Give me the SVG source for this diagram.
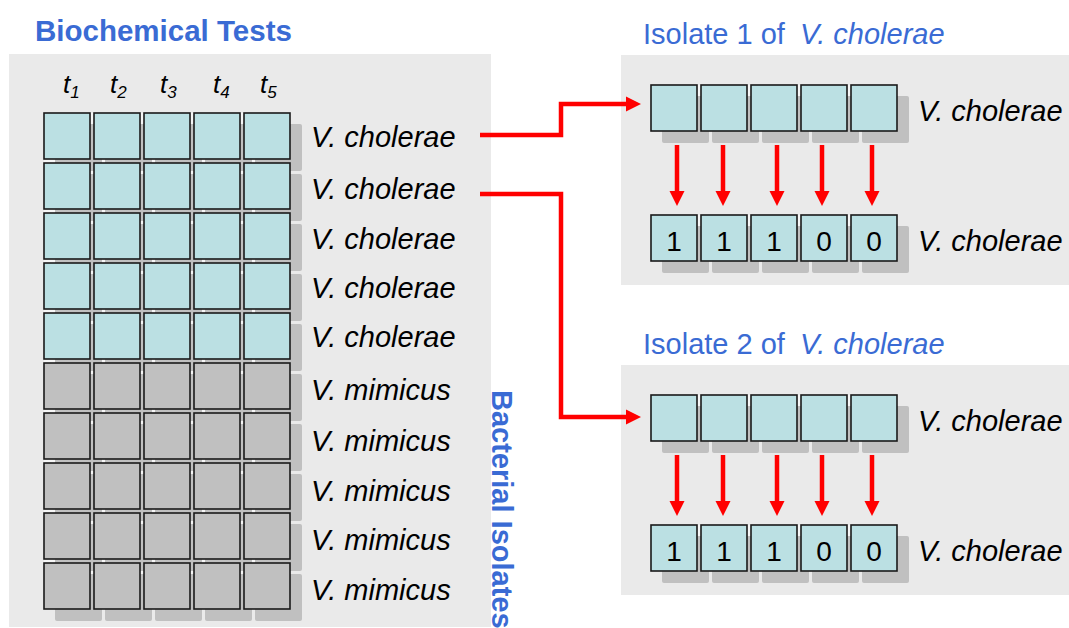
<svg xmlns="http://www.w3.org/2000/svg" width="1069" height="628" viewBox="0 0 1069 628">
<defs>
<style>
.panel{fill:#eaeaea}
.gapbg{fill:#f6f6f6}
.sh{fill:#c0c0c0}
.cy{fill:#bbe0e3;stroke:#1a1a1a;stroke-width:1.6}
.gr{fill:#c0c0c0;stroke:#1a1a1a;stroke-width:1.6}
.lab{font-family:"Liberation Sans",Arial,sans-serif;font-style:italic;font-size:29px;fill:#000}
.hdr{font-family:"Liberation Sans",Arial,sans-serif;font-style:italic;font-size:26px;fill:#000}
.sub{font-size:17px}
.dig{font-family:"Liberation Sans",Arial,sans-serif;font-size:28px;fill:#000;text-anchor:middle}
.ttl{font-family:"Liberation Sans",Arial,sans-serif;font-size:29px;fill:#3a6bd4}
.bold{font-weight:bold}
.it{font-style:italic}
.con{fill:none;stroke:#ff0000;stroke-width:4.5;marker-end:url(#ah)}
</style>
<marker id="ah" markerUnits="userSpaceOnUse" markerWidth="16" markerHeight="16" refX="0" refY="7.5" orient="auto" viewBox="0 0 16 15">
<path d="M0,0 L15,7.5 L0,15 z" fill="#ff0000"/>
</marker>
<g id="cellS">
<rect class="sh" x="11" y="11" width="47" height="47" rx="2"/>
</g>
</defs>

<!-- Left panel -->
<g id="left-panel">
<rect class="panel" x="9" y="54" width="482" height="573"/>
<text class="ttl bold" x="35" y="41" style="font-size:29.5px">Biochemical Tests</text>
<text class="ttl bold" transform="translate(492,390) rotate(90)">Bacterial Isolates</text>
<text class="hdr" x="63" y="93">t<tspan class="sub" dy="5">1</tspan></text>
<text class="hdr" x="110" y="93">t<tspan class="sub" dy="5">2</tspan></text>
<text class="hdr" x="160" y="93">t<tspan class="sub" dy="5">3</tspan></text>
<text class="hdr" x="213" y="93">t<tspan class="sub" dy="5">4</tspan></text>
<text class="hdr" x="260" y="93">t<tspan class="sub" dy="5">5</tspan></text>
</g>

<g id="grid">
<rect class="gapbg" x="44" y="113" width="247" height="497"/>
<g id="grid-shadows">
<use href="#cellS" x="44" y="113"/><use href="#cellS" x="94" y="113"/><use href="#cellS" x="144" y="113"/><use href="#cellS" x="194" y="113"/><use href="#cellS" x="244" y="113"/>
<use href="#cellS" x="44" y="163"/><use href="#cellS" x="94" y="163"/><use href="#cellS" x="144" y="163"/><use href="#cellS" x="194" y="163"/><use href="#cellS" x="244" y="163"/>
<use href="#cellS" x="44" y="213"/><use href="#cellS" x="94" y="213"/><use href="#cellS" x="144" y="213"/><use href="#cellS" x="194" y="213"/><use href="#cellS" x="244" y="213"/>
<use href="#cellS" x="44" y="263"/><use href="#cellS" x="94" y="263"/><use href="#cellS" x="144" y="263"/><use href="#cellS" x="194" y="263"/><use href="#cellS" x="244" y="263"/>
<use href="#cellS" x="44" y="313"/><use href="#cellS" x="94" y="313"/><use href="#cellS" x="144" y="313"/><use href="#cellS" x="194" y="313"/><use href="#cellS" x="244" y="313"/>
<use href="#cellS" x="44" y="363"/><use href="#cellS" x="94" y="363"/><use href="#cellS" x="144" y="363"/><use href="#cellS" x="194" y="363"/><use href="#cellS" x="244" y="363"/>
<use href="#cellS" x="44" y="413"/><use href="#cellS" x="94" y="413"/><use href="#cellS" x="144" y="413"/><use href="#cellS" x="194" y="413"/><use href="#cellS" x="244" y="413"/>
<use href="#cellS" x="44" y="463"/><use href="#cellS" x="94" y="463"/><use href="#cellS" x="144" y="463"/><use href="#cellS" x="194" y="463"/><use href="#cellS" x="244" y="463"/>
<use href="#cellS" x="44" y="513"/><use href="#cellS" x="94" y="513"/><use href="#cellS" x="144" y="513"/><use href="#cellS" x="194" y="513"/><use href="#cellS" x="244" y="513"/>
<use href="#cellS" x="44" y="563"/><use href="#cellS" x="94" y="563"/><use href="#cellS" x="144" y="563"/><use href="#cellS" x="194" y="563"/><use href="#cellS" x="244" y="563"/>
</g>
<g id="row1"><rect class="cy" x="44" y="113" width="46" height="46"/><rect class="cy" x="94" y="113" width="46" height="46"/><rect class="cy" x="144" y="113" width="46" height="46"/><rect class="cy" x="194" y="113" width="46" height="46"/><rect class="cy" x="244" y="113" width="46" height="46"/><text class="lab" x="311" y="147">V. cholerae</text></g>
<g id="row2"><rect class="cy" x="44" y="163" width="46" height="46"/><rect class="cy" x="94" y="163" width="46" height="46"/><rect class="cy" x="144" y="163" width="46" height="46"/><rect class="cy" x="194" y="163" width="46" height="46"/><rect class="cy" x="244" y="163" width="46" height="46"/><text class="lab" x="311" y="199">V. cholerae</text></g>
<g id="row3"><rect class="cy" x="44" y="213" width="46" height="46"/><rect class="cy" x="94" y="213" width="46" height="46"/><rect class="cy" x="144" y="213" width="46" height="46"/><rect class="cy" x="194" y="213" width="46" height="46"/><rect class="cy" x="244" y="213" width="46" height="46"/><text class="lab" x="311" y="249">V. cholerae</text></g>
<g id="row4"><rect class="cy" x="44" y="263" width="46" height="46"/><rect class="cy" x="94" y="263" width="46" height="46"/><rect class="cy" x="144" y="263" width="46" height="46"/><rect class="cy" x="194" y="263" width="46" height="46"/><rect class="cy" x="244" y="263" width="46" height="46"/><text class="lab" x="311" y="298">V. cholerae</text></g>
<g id="row5"><rect class="cy" x="44" y="313" width="46" height="46"/><rect class="cy" x="94" y="313" width="46" height="46"/><rect class="cy" x="144" y="313" width="46" height="46"/><rect class="cy" x="194" y="313" width="46" height="46"/><rect class="cy" x="244" y="313" width="46" height="46"/><text class="lab" x="311" y="347">V. cholerae</text></g>
<g id="row6"><rect class="gr" x="44" y="363" width="46" height="46"/><rect class="gr" x="94" y="363" width="46" height="46"/><rect class="gr" x="144" y="363" width="46" height="46"/><rect class="gr" x="194" y="363" width="46" height="46"/><rect class="gr" x="244" y="363" width="46" height="46"/><text class="lab" x="311" y="400">V. mimicus</text></g>
<g id="row7"><rect class="gr" x="44" y="413" width="46" height="46"/><rect class="gr" x="94" y="413" width="46" height="46"/><rect class="gr" x="144" y="413" width="46" height="46"/><rect class="gr" x="194" y="413" width="46" height="46"/><rect class="gr" x="244" y="413" width="46" height="46"/><text class="lab" x="311" y="451">V. mimicus</text></g>
<g id="row8"><rect class="gr" x="44" y="463" width="46" height="46"/><rect class="gr" x="94" y="463" width="46" height="46"/><rect class="gr" x="144" y="463" width="46" height="46"/><rect class="gr" x="194" y="463" width="46" height="46"/><rect class="gr" x="244" y="463" width="46" height="46"/><text class="lab" x="311" y="501">V. mimicus</text></g>
<g id="row9"><rect class="gr" x="44" y="513" width="46" height="46"/><rect class="gr" x="94" y="513" width="46" height="46"/><rect class="gr" x="144" y="513" width="46" height="46"/><rect class="gr" x="194" y="513" width="46" height="46"/><rect class="gr" x="244" y="513" width="46" height="46"/><text class="lab" x="311" y="550">V. mimicus</text></g>
<g id="row10"><rect class="gr" x="44" y="563" width="46" height="46"/><rect class="gr" x="94" y="563" width="46" height="46"/><rect class="gr" x="144" y="563" width="46" height="46"/><rect class="gr" x="194" y="563" width="46" height="46"/><rect class="gr" x="244" y="563" width="46" height="46"/><text class="lab" x="311" y="600">V. mimicus</text></g>
</g>

<!-- Isolate 1 -->
<g id="isolate1">
<text class="ttl" x="643" y="44">Isolate 1 of <tspan class="it" x="800">V. cholerae</tspan></text>
<rect class="panel" x="621" y="55" width="448" height="230"/>
<g id="iso1-raw">
<rect class="gapbg" x="651" y="85" width="247" height="46"/>
<use href="#cellS" x="651" y="85"/><use href="#cellS" x="701" y="85"/><use href="#cellS" x="751" y="85"/><use href="#cellS" x="801" y="85"/><use href="#cellS" x="851" y="85"/>
<rect class="cy" x="651" y="85" width="46" height="46"/><rect class="cy" x="701" y="85" width="46" height="46"/><rect class="cy" x="751" y="85" width="46" height="46"/><rect class="cy" x="801" y="85" width="46" height="46"/><rect class="cy" x="851" y="85" width="46" height="46"/>
<text class="lab" x="918" y="121">V. cholerae</text>
</g>
<g id="iso1-bin">
<rect class="gapbg" x="651" y="215" width="247" height="46"/>
<use href="#cellS" x="651" y="215"/><use href="#cellS" x="701" y="215"/><use href="#cellS" x="751" y="215"/><use href="#cellS" x="801" y="215"/><use href="#cellS" x="851" y="215"/>
<rect class="cy" x="651" y="215" width="46" height="46"/><rect class="cy" x="701" y="215" width="46" height="46"/><rect class="cy" x="751" y="215" width="46" height="46"/><rect class="cy" x="801" y="215" width="46" height="46"/><rect class="cy" x="851" y="215" width="46" height="46"/>
<text class="dig" x="674" y="251">1</text><text class="dig" x="724" y="251">1</text><text class="dig" x="774" y="251">1</text><text class="dig" x="824" y="251">0</text><text class="dig" x="874" y="251">0</text>
<text class="lab" x="918" y="251">V. cholerae</text>
</g>
</g>

<!-- Isolate 2 -->
<g id="isolate2">
<text class="ttl" x="643" y="354">Isolate 2 of <tspan class="it" x="800">V. cholerae</tspan></text>
<rect class="panel" x="621" y="365" width="448" height="230"/>
<g id="iso2-raw">
<rect class="gapbg" x="651" y="395" width="247" height="46"/>
<use href="#cellS" x="651" y="395"/><use href="#cellS" x="701" y="395"/><use href="#cellS" x="751" y="395"/><use href="#cellS" x="801" y="395"/><use href="#cellS" x="851" y="395"/>
<rect class="cy" x="651" y="395" width="46" height="46"/><rect class="cy" x="701" y="395" width="46" height="46"/><rect class="cy" x="751" y="395" width="46" height="46"/><rect class="cy" x="801" y="395" width="46" height="46"/><rect class="cy" x="851" y="395" width="46" height="46"/>
<text class="lab" x="918" y="431">V. cholerae</text>
</g>
<g id="iso2-bin">
<rect class="gapbg" x="651" y="525" width="247" height="46"/>
<use href="#cellS" x="651" y="525"/><use href="#cellS" x="701" y="525"/><use href="#cellS" x="751" y="525"/><use href="#cellS" x="801" y="525"/><use href="#cellS" x="851" y="525"/>
<rect class="cy" x="651" y="525" width="46" height="46"/><rect class="cy" x="701" y="525" width="46" height="46"/><rect class="cy" x="751" y="525" width="46" height="46"/><rect class="cy" x="801" y="525" width="46" height="46"/><rect class="cy" x="851" y="525" width="46" height="46"/>
<text class="dig" x="674" y="561">1</text><text class="dig" x="724" y="561">1</text><text class="dig" x="774" y="561">1</text><text class="dig" x="824" y="561">0</text><text class="dig" x="874" y="561">0</text>
<text class="lab" x="918" y="561">V. cholerae</text>
</g>
</g>

<g id="connectors">
<path class="con" d="M480,135 H561 V104 H626"/>
<path class="con" d="M480,194 H561 V417 H626"/>
<path class="con" d="M677,145 V191"/>
<path class="con" d="M723,145 V191"/>
<path class="con" d="M777,145 V191"/>
<path class="con" d="M822,145 V191"/>
<path class="con" d="M872,145 V191"/>
<path class="con" d="M677,455 V501"/>
<path class="con" d="M723,455 V501"/>
<path class="con" d="M777,455 V501"/>
<path class="con" d="M822,455 V501"/>
<path class="con" d="M872,455 V501"/>
</g>
</svg>
